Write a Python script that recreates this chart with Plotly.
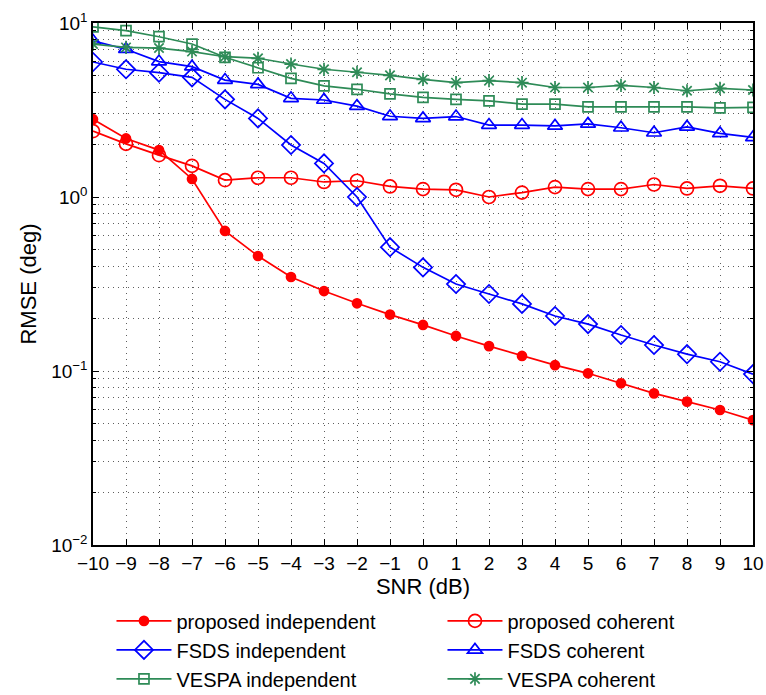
import plotly.graph_objects as go

# SNR sweep (dB)
snr = list(range(-10, 11))

# RMSE (deg) for each method and source scenario
proposed_independent = [2.80, 2.17, 1.86, 1.27, 0.638, 0.458, 0.347, 0.288, 0.245, 0.211, 0.184,
                        0.159, 0.139, 0.122, 0.108, 0.097, 0.085, 0.0744, 0.0667, 0.0597, 0.0522]
proposed_coherent = [2.39, 2.02, 1.74, 1.51, 1.25, 1.29, 1.29, 1.22, 1.24, 1.15, 1.11,
                     1.10, 1.00, 1.06, 1.14, 1.11, 1.11, 1.18, 1.12, 1.16, 1.12]
fsds_independent = [5.97, 5.42, 5.18, 4.87, 3.64, 2.83, 1.99, 1.56, 1.00, 0.515, 0.394,
                    0.316, 0.277, 0.243, 0.207, 0.186, 0.161, 0.141, 0.125, 0.113, 0.096]
fsds_coherent = [7.90, 7.07, 6.00, 5.61, 4.70, 4.44, 3.69, 3.61, 3.33, 2.91, 2.83,
                 2.90, 2.59, 2.59, 2.56, 2.63, 2.50, 2.34, 2.53, 2.32, 2.20]
vespa_independent = [9.50, 9.03, 8.34, 7.57, 6.35, 5.53, 4.81, 4.35, 4.16, 3.91, 3.74,
                     3.64, 3.57, 3.42, 3.42, 3.30, 3.30, 3.30, 3.30, 3.25, 3.27]
vespa_coherent = [7.57, 7.24, 7.18, 6.85, 6.40, 6.27, 5.81, 5.42, 5.21, 5.00, 4.74,
                  4.54, 4.66, 4.54, 4.26, 4.26, 4.38, 4.26, 4.08, 4.21, 4.12]

# Axis tick labels
x_ticks = list(range(-10, 11))
y_major = [0.01, 0.1, 1, 10]
y_major_text = ["10<sup>−2</sup>", "10<sup>−1</sup>", "10<sup>0</sup>", "10<sup>1</sup>"]
y_minor = [m * d for d in (0.01, 0.1, 1) for m in range(2, 10)]

RED = "#FF0000"
BLUE = "#0000FF"
GREEN = "#2E8B57"

series = [
    ("proposed independent", proposed_independent, RED, "circle", 9),
    ("proposed coherent", proposed_coherent, RED, "circle-open", 13),
    ("FSDS independent", fsds_independent, BLUE, "diamond-open", 14),
    ("FSDS coherent", fsds_coherent, BLUE, "triangle-up-open", 13),
    ("VESPA independent", vespa_independent, GREEN, "square-open", 10),
    ("VESPA coherent", vespa_coherent, GREEN, "asterisk-open", 11),
]

fig = go.Figure()
for name, vals, color, symbol, size in series:
    fig.add_trace(go.Scatter(
        x=snr, y=vals, name=name, mode="lines+markers",
        line=dict(color=color, width=1.7),
        marker=dict(symbol=symbol, size=size, color=color,
                    line=dict(color=color, width=1.7)),
    ))

grid_color = "rgba(40,40,40,0.75)"
font_family = "Liberation Sans, Arial, sans-serif"

fig.update_layout(
    width=766, height=695,
    margin=dict(l=93, r=13, t=23, b=150, autoexpand=False),
    paper_bgcolor="white", plot_bgcolor="white",
    font=dict(family=font_family, size=19, color="black"),
    showlegend=True,
    legend=dict(
        orientation="h", x=0.028, xanchor="left", y=-0.108, yanchor="top",
        entrywidth=261, entrywidthmode="pixels",
        font=dict(size=20), bgcolor="rgba(0,0,0,0)", tracegroupgap=0,
        itemwidth=55,
    ),
    xaxis=dict(
        range=[-10, 10], tickmode="array", tickvals=x_ticks,
        ticks="inside", ticklen=6, tickwidth=1, tickcolor="black",
        showline=True, linecolor="black", linewidth=1.5, mirror="ticks",
        showgrid=True, gridcolor=grid_color, gridwidth=1, griddash="1px,5px",
        zeroline=False,
        title=dict(text="SNR (dB)", font=dict(size=22), standoff=0),
        tickfont=dict(size=19),
    ),
    yaxis=dict(
        type="log", range=[-2, 1], tickmode="array",
        tickvals=y_major, ticktext=y_major_text,
        ticks="inside", ticklen=6, tickwidth=1, tickcolor="black",
        showline=True, linecolor="black", linewidth=1.5, mirror="ticks",
        showgrid=True, gridcolor=grid_color, gridwidth=1, griddash="1px,4px",
        zeroline=False,
        minor=dict(tickmode="array", tickvals=y_minor, ticks="inside", ticklen=3,
                   tickcolor="black", showgrid=True, gridcolor=grid_color,
                   gridwidth=1, griddash="1px,4px"),
        title=dict(text="RMSE (deg)", font=dict(size=22), standoff=8),
        tickfont=dict(size=19),
    ),
)

fig.write_html("out.html")
